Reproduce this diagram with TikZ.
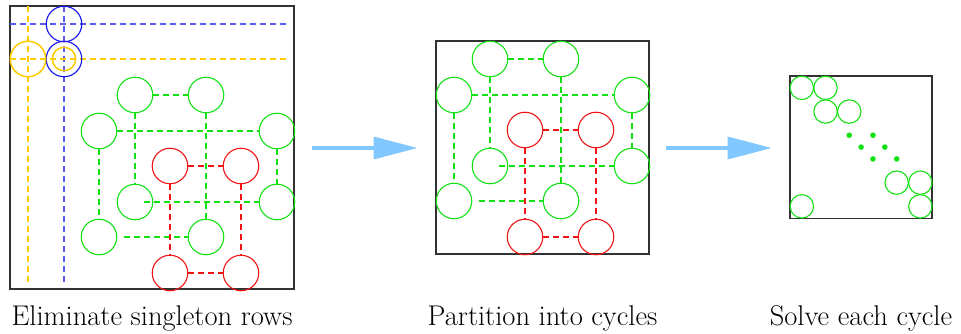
\documentclass[tikz,border=0pt]{standalone}
\usetikzlibrary{arrows.meta}
\definecolor{cgreen}{RGB}{20,225,20}
\definecolor{cred}{RGB}{240,20,20}
\definecolor{cyel}{RGB}{255,204,0}
\definecolor{cblue}{RGB}{20,20,235}
\definecolor{cblueline}{RGB}{90,90,245}
\definecolor{carrow}{RGB}{128,200,255}
\definecolor{cbox}{RGB}{50,50,50}
\tikzset{
  frame/.style={color=cbox,line width=1.2pt},
  gc/.style={circle,color=cgreen,draw,line width=1.1pt,inner sep=0pt,outer sep=0pt,minimum size=35.5pt},
  rc/.style={gc,color=cred},
  bc/.style={gc,color=cblue},
  yc/.style={gc,color=cyel,line width=1.5pt},
  ysc/.style={yc,minimum size=23.4pt},
  sgc/.style={gc,minimum size=23.4pt},
  gdot/.style={circle,color=cgreen,fill,inner sep=0pt,outer sep=0pt,minimum size=5.6pt},
  dl/.style={line width=2pt,dash pattern=on 6pt off 4pt},
  gl/.style={dl,color=cgreen},
  rl/.style={dl,color=cred},
  bl/.style={dl,color=cblueline},
  yl/.style={dl,color=cyel},
  bigarrow/.style={color=carrow,line width=3.5pt,-{Triangle[length=44pt,width=22pt]}},
  lab/.style={anchor=base,inner sep=0pt,font=\fontsize{28.5}{32}\selectfont}
}
\newcommand\cycgraph[3]{%
  \foreach \r/\c in {2/3,2/5,3/2,3/7,5/3,5/7,6/2,6/5}
    \node[gc] (#1g\r\c) at ({round(#2+35.5*\c)},{round(#3+35.5*\r)}) {};
  \foreach \r/\c in {4/4,4/6,7/4,7/6}
    \node[rc] (#1r\r\c) at ({round(#2+35.5*\c)},{round(#3+35.5*\r)}) {};
  \draw[gl] (#1g23) -- (#1g25);
  \draw[gl] (#1g23) -- (#1g53);
  \draw[gl] (#1g25) -- (#1g65);
  \draw[gl] (#1g32) -- (#1g37);
  \draw[gl] (#1g32) -- (#1g62);
  \draw[gl] (#1g37) -- (#1g57);
  \draw[gl] ([xshift=9pt]#1g53.center) -- (#1g57);
  \draw[gl] ([xshift=24.5pt]#1g62.center) -- (#1g65);
  \draw[rl] (#1r44) -- (#1r46);
  \draw[rl] (#1r44) -- (#1r74);
  \draw[rl] (#1r46) -- (#1r76);
  \draw[rl] (#1r74) -- (#1r76);
}
\begin{document}
\begin{tikzpicture}[x=1pt,y=-1pt]
\useasboundingbox (0,0) rectangle (961,334);
% ---------- panel 1 ----------
\draw[frame] (10,6) rectangle (294,289);
\coordinate (bhs) at (10,24);   \coordinate (bhe) at (289,24);
\coordinate (bvs) at (64,6);    \coordinate (bve) at (64,285);
\coordinate (yhs) at (10,59);   \coordinate (yhe) at (289,59);
\coordinate (yvs) at (28,6);    \coordinate (yve) at (28,285);
\draw[bl] (bhs) -- (bhe);
\draw[bl] (bvs) -- (bve);
\draw[yl] (yhs) -- (yhe);
\draw[yl] (yvs) -- (yve);
\node[bc] (b01) at (64,24) {};
\node[bc] (b11) at (64,59) {};
\node[yc] (y10) at (28,59) {};
\node[ysc] (y11) at (64,59) {};
\cycgraph{p}{28}{24}
% ---------- panel 2 ----------
\draw[frame] (436,41) rectangle (649,254);
\cycgraph{q}{383}{-12}
% ---------- panel 3 ----------
\draw[frame] (790,76) rectangle (932,218.2);
\foreach \r/\c in {0/0,0/1,1/1,1/2,4/4,4/5,5/5,5/0}
  \node[sgc] (s\r\c) at ({790+23.7*(\c+0.5)},{76+23.7*(\r+0.5)}) {};
\foreach \x/\y [count=\i] in {2.5/2.5,3.5/2.5,3/3,4/3,3.5/3.5,4.5/3.5}
  \node[gdot] (d\i) at ({790+23.7*\x},{76+23.7*\y}) {};
% ---------- arrows ----------
\coordinate (a1s) at (312,148); \coordinate (a1e) at (417.5,148);
\coordinate (a2s) at (666,148); \coordinate (a2e) at (771.7,148);
\draw[bigarrow] (a1s) -- (a1e);
\draw[bigarrow] (a2s) -- (a2e);
% ---------- labels ----------
\node[lab] (t1) at (152,325.7) {Eliminate singleton rows};
\node[lab] (t2) at (542.5,325.7) {Partition into cycles};
\node[lab] (t3) at (861,325.7) {Solve each cycle};
\end{tikzpicture}
\end{document}
